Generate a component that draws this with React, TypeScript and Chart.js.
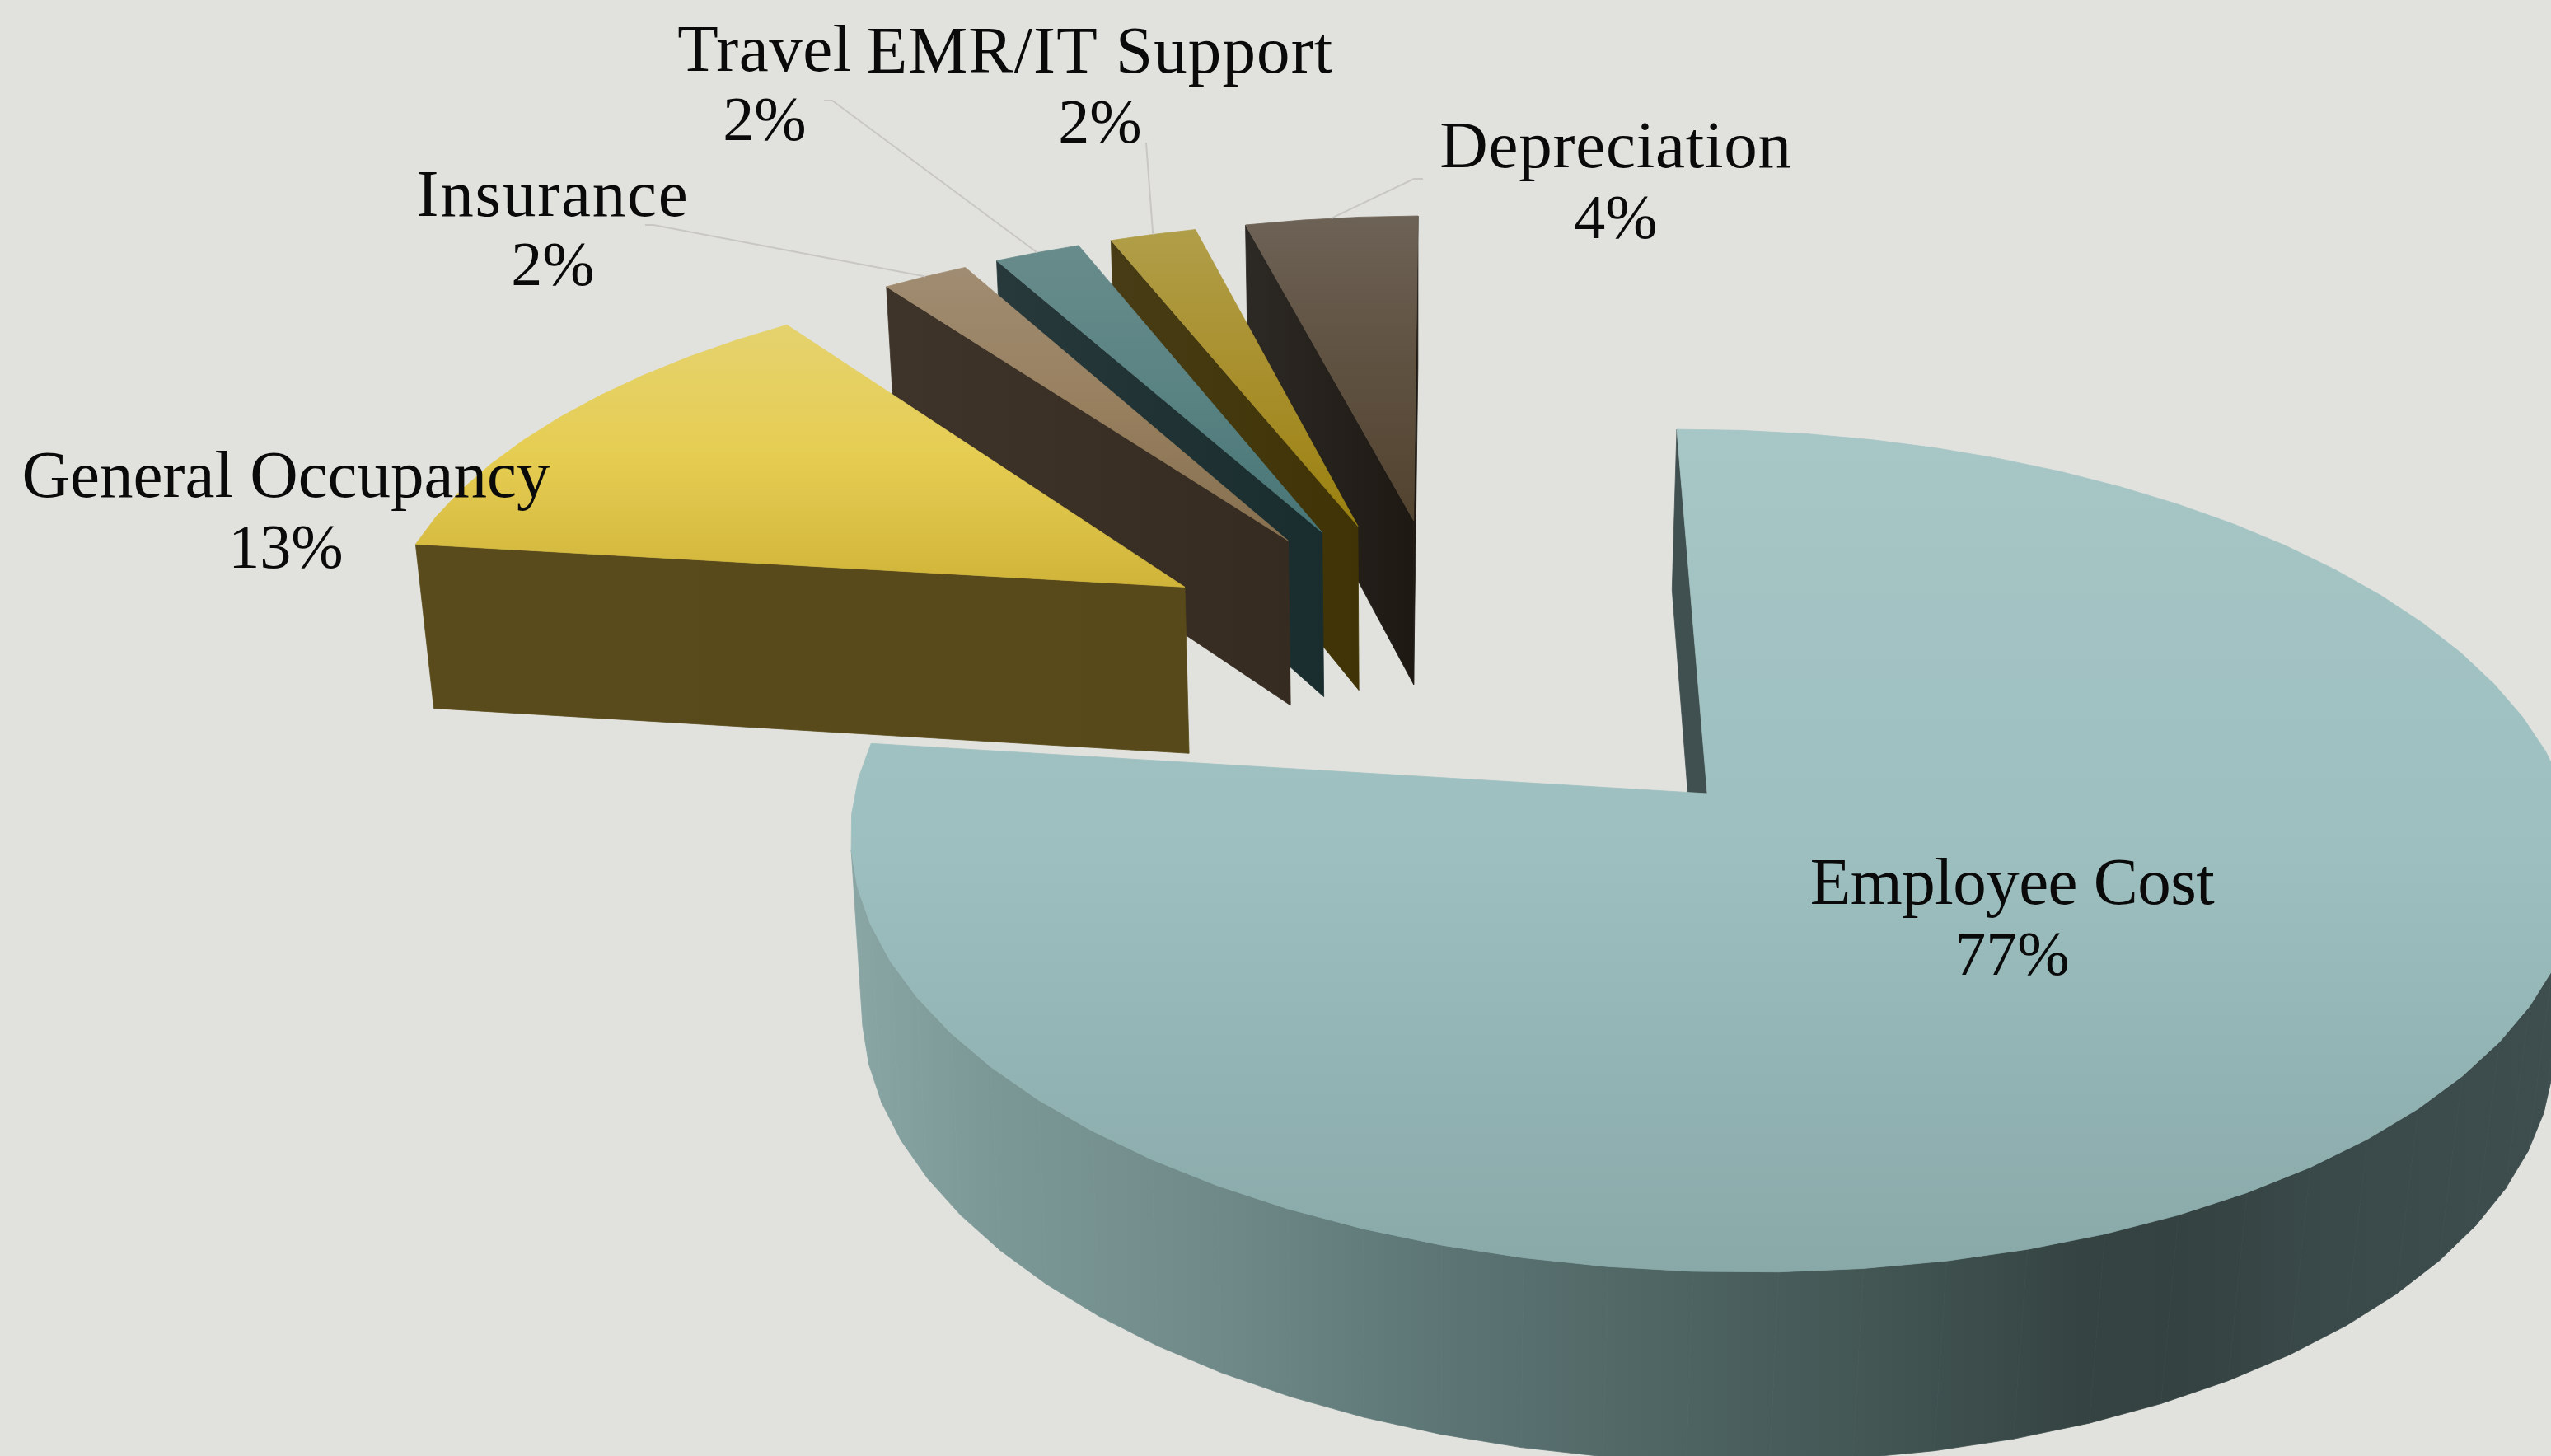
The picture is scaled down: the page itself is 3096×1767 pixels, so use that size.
import React, { useEffect, useRef } from "react";
import { Chart, registerables } from "chart.js";

Chart.register(...registerables);

// ---- data ----
const categories = ["Employee Cost", "General Occupancy", "Insurance", "Travel", "EMR/IT Support", "Depreciation"];
const percentages = [77, 13, 2, 2, 2, 4];

// ---- styles ----
const BACKGROUND = "#e1e2dd";
const topStops = [
  ["#a7c6c6", "#9dbfbf", "#88a9a8"],
  ["#e4d26e", "#e6cd52", "#d0b43a"],
  ["#a08c72", "#98805f", "#86704f"],
  ["#688b8b", "#5a8383", "#487576"],
  ["#b09e48", "#a98f2c", "#9a810f"],
  ["#6d6256", "#5f5140", "#52432f"],
];
const edgeStops = [
  ["#404f4f", "#404f4f"],
  ["#594b1c", "#574919"],
  ["#3f3429", "#362b20"],
  ["#27393a", "#192c2e"],
  ["#473c15", "#403305"],
  ["#2d2924", "#1d1812"],
];
const rimStops: [number, string][] = [
  [1033, "#89a6a5"],
  [1200, "#7b9897"],
  [1500, "#6e8887"],
  [1700, "#5f7878"],
  [2000, "#4f6664"],
  [2300, "#415452"],
  [2520, "#354443"],
  [2650, "#344241"],
  [2800, "#394848"],
  [3096, "#3e4d4d"],
];
const LEADER_COLOR = "#c9c7c4";
const NAME_FONT = "81px 'Liberation Serif'";
const PCT_FONT = "76px 'Liberation Serif'";
const TEXT_COLOR = "#0a0a0a";

// ---- label layout: [centre x, name y, percent y] ----
const labelLayout = [
  [2442, 1076, 1163],
  [347, 582, 669],
  [671, 241, 326],
  [928, 65, 150],
  [1335, 67, 153],
  [1961, 182, 269],
];
const nameTracking = [-0.5, 0, 1.8, 0.5, 1.1, 0.75];
// leader line starts, by slice (null = no leader)
const leaderStarts: (number[][] | null)[] = [
  null,
  null,
  [[783, 273], [793, 273]],
  [[1000, 122], [1010, 122]],
  [[1391, 173]],
  [[1727, 217], [1716, 217]],
];

// ---- camera: perspective mapping of the pie's plane onto the canvas ----
const CAM = { ax: 2072, ay: 963, a: 1038, b: -42, c: -1, d: -502, g: -0.003, h: 0.136, k: 0.0205, vx: 1713, vy: 11500 };
const EXPLODE_PX = [326, 281, 281, 281, 281, 281];
const FACET = (5 * Math.PI) / 180;

type P = { x: number; y: number; w: number };
const project = (U: number, V: number): P => {
  const w = 1 + CAM.g * U + CAM.h * V;
  return { x: CAM.ax + (CAM.a * U + CAM.b * V) / w, y: CAM.ay + (CAM.c * U + CAM.d * V) / w, w };
};
const drop = (p: P): P => {
  const t = CAM.k / (p.w + CAM.k);
  return { x: p.x + t * (CAM.vx - p.x), y: p.y + t * (CAM.vy - p.y), w: p.w };
};
const shoelace = (pts: P[]) => {
  let s = 0;
  pts.forEach((p, i) => {
    const q = pts[(i + 1) % pts.length];
    s += p.x * q.y - q.x * p.y;
  });
  return s;
};
const fillPoly = (ctx: CanvasRenderingContext2D, pts: P[], style: CanvasGradient | string) => {
  ctx.beginPath();
  pts.forEach((p, i) => (i ? ctx.lineTo(p.x, p.y) : ctx.moveTo(p.x, p.y)));
  ctx.closePath();
  ctx.fillStyle = style;
  ctx.strokeStyle = style;
  ctx.lineWidth = 0.8;
  ctx.fill();
  ctx.stroke();
};

const pie3d = {
  id: "pie3d",
  beforeDatasetsDraw(chart: any) {
    const ctx: CanvasRenderingContext2D = chart.ctx;
    const arcs = chart.getDatasetMeta(0).data;
    const geometry = (arc: any) => {
      const R = arc.outerRadius;
      const mid = (arc.startAngle + arc.endAngle) / 2;
      const off = (arc.options.offset || 0) / R;
      return { cu: off * Math.cos(mid), cv: -off * Math.sin(mid) };
    };
    const o = geometry(arcs[0]);
    const place = (arc: any, ang: number | null) => {
      const g = geometry(arc);
      const U = g.cu - o.cu + (ang === null ? 0 : Math.cos(ang));
      const V = g.cv - o.cv + (ang === null ? 0 : -Math.sin(ang));
      return project(U, V);
    };

    ctx.save();
    for (let i = arcs.length - 1; i >= 0; i--) {
      const arc = arcs[i];
      const n = Math.max(2, Math.ceil((arc.endAngle - arc.startAngle) / FACET));
      const rim: P[] = [];
      for (let j = 0; j <= n; j++) rim.push(place(arc, arc.startAngle + ((arc.endAngle - arc.startAngle) * j) / n));
      const apex = place(arc, null);
      const poly = [apex, ...rim];

      const xs = poly.map((p) => p.x);
      const edgeGrad = ctx.createLinearGradient(Math.min(...xs), 0, Math.max(...xs), 0);
      edgeGrad.addColorStop(0, edgeStops[i][0]);
      edgeGrad.addColorStop(1, edgeStops[i][1]);

      const side = (p: P, q: P, style: CanvasGradient) => {
        const quad = [p, q, drop(q), drop(p)];
        if (shoelace(quad) < 0) fillPoly(ctx, quad, style);
      };
      side(apex, rim[0], edgeGrad);
      side(rim[n], apex, edgeGrad);

      const rimGrad = ctx.createLinearGradient(rimStops[0][0], 0, rimStops[rimStops.length - 1][0], 0);
      const span = rimStops[rimStops.length - 1][0] - rimStops[0][0];
      rimStops.forEach(([x, c]) => rimGrad.addColorStop((x - rimStops[0][0]) / span, c));
      for (let j = 0; j < n; j++) side(rim[j], rim[j + 1], rimGrad);

      const ys = poly.map((p) => p.y);
      const topGrad = ctx.createLinearGradient(0, Math.min(...ys), 0, Math.max(...ys));
      topStops[i].forEach((c, s) => topGrad.addColorStop(s / (topStops[i].length - 1), c));
      fillPoly(ctx, poly, topGrad);
    }

    // leader lines
    ctx.strokeStyle = LEADER_COLOR;
    ctx.lineWidth = 2;
    arcs.forEach((arc: any, i: number) => {
      const start = leaderStarts[i];
      if (!start) return;
      const end = place(arc, (arc.startAngle + arc.endAngle) / 2);
      ctx.beginPath();
      start.forEach((s, j) => (j ? ctx.lineTo(s[0], s[1]) : ctx.moveTo(s[0], s[1])));
      ctx.lineTo(end.x, end.y);
      ctx.stroke();
    });

    // labels
    ctx.fillStyle = TEXT_COLOR;
    ctx.textAlign = "center";
    ctx.textBaseline = "middle";
    categories.forEach((name, i) => {
      const [x, y1, y2] = labelLayout[i];
      ctx.font = NAME_FONT;
      (ctx as any).letterSpacing = `${nameTracking[i]}px`;
      ctx.fillText(name, x, y1);
      ctx.font = PCT_FONT;
      (ctx as any).letterSpacing = "0px";
      ctx.fillText(`${percentages[i]}%`, x, y2);
    });
    ctx.restore();
    return false;
  },
};

export default function App() {
  const ref = useRef<HTMLCanvasElement>(null);
  useEffect(() => {
    document.body.style.margin = "0";
    document.body.style.background = BACKGROUND;
    const chart = new Chart(ref.current!, {
      type: "pie",
      data: {
        labels: categories,
        datasets: [
          {
            data: percentages,
            backgroundColor: topStops.map((s) => s[1]),
            borderWidth: 0,
            offset: EXPLODE_PX,
          },
        ],
      },
      options: {
        responsive: false,
        devicePixelRatio: 1,
        animation: false,
        rotation: 0,
        layout: { padding: 0 },
        plugins: { legend: { display: false }, title: { display: false }, tooltip: { enabled: false } },
      },
      plugins: [pie3d],
    } as any);
    return () => chart.destroy();
  }, []);
  return (
    <canvas
      ref={ref}
      width={3096}
      height={1767}
      style={{ display: "block", width: 3096, height: 1767, background: BACKGROUND }}
    />
  );
}
